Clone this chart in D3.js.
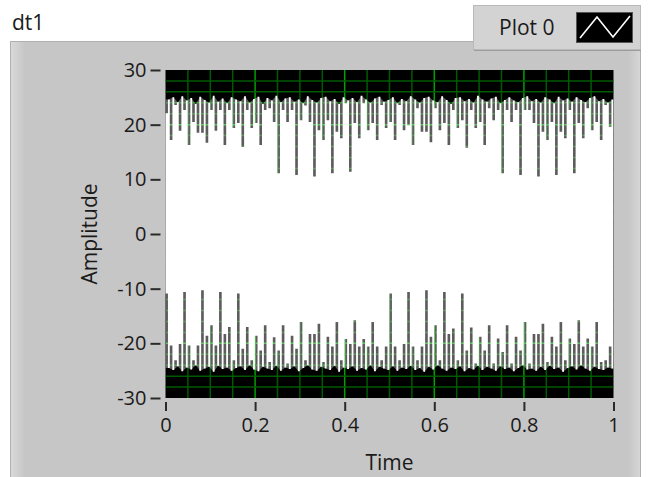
<!DOCTYPE html>
<html><head><meta charset="utf-8">
<script src="https://cdn.jsdelivr.net/npm/d3@7"></script>
<style>
html,body{margin:0;padding:0;background:#fff;}
svg{display:block;}
text{font-family:"Open Sans","Noto Sans",sans-serif;fill:#1a1a1a;}
</style></head><body>
<svg id="c" width="652" height="477"></svg>
<script>
// ---------- data ----------
const graphName = "dt1";
const plotName = "Plot 0";
const xTitle = "Time";
const yTitle = "Amplitude";
const xTicks = [0, 0.2, 0.4, 0.6, 0.8, 1];
const xTickLabels = ["0", "0.2", "0.4", "0.6", "0.8", "1"];
const yTicks = [30, 20, 10, 0, -10, -20, -30];
const yTickLabels = ["30", "20", "10", "0", "-10", "-20", "-30"];
const t0 = 0, dt = 0.01;   // one pair of display columns per dt

// upper end of the "dip" columns (dark spikes hanging from the top band)
const dipTop = [22.1,17.2,23.6,18.9,22.7,16.3,20.5,18.5,18.5,16.7,
  22.7,18.9,22.7,16.3,22.7,19.4,20.3,15.9,22.7,19.4,
  20.3,16.3,22.7,23.0,20.5,11.1,22.7,20.5,22.7,10.8,
  20.8,23.5,20.5,10.5,19.0,17.2,20.8,11.1,18.7,17.5,
  23.9,11.4,20.3,17.5,23.9,19.0,20.3,17.2,23.6,19.4,
  20.5,17.2,23.6,19.0,19.9,16.3,23.0,18.7,18.7,16.8,
  23.0,19.0,20.3,16.3,22.7,19.4,20.8,15.8,22.7,19.4,
  20.5,16.3,23.0,20.8,22.7,11.1,22.7,20.5,22.7,10.8,
  22.7,22.7,20.3,10.5,18.7,17.2,20.5,10.8,18.7,17.5,
  22.7,11.1,20.3,17.5,23.0,19.0,20.5,17.2,23.6,19.6];
// lower end of the "dip" columns (dark spikes rising from the bottom band)
const dipBottom = [-10.9,-20.4,-23.1,-20.1,-10.6,-20.4,-23.1,-20.4,-10.3,-18.6,
  -16.7,-20.4,-10.6,-18.3,-17.0,-23.1,-10.9,-21.0,-17.0,-23.1,
  -18.6,-21.3,-16.7,-23.4,-18.9,-21.3,-16.7,-23.7,-18.6,-21.0,
  -16.1,-23.1,-18.3,-18.3,-16.4,-23.4,-18.8,-20.6,-16.1,-23.1,
  -19.2,-20.1,-15.8,-20.6,-19.2,-20.6,-16.1,-20.6,-23.1,-20.6,
  -10.9,-20.6,-23.1,-20.1,-10.6,-20.6,-23.1,-20.6,-10.3,-18.8,
  -16.7,-23.1,-10.6,-18.3,-17.3,-23.1,-10.9,-21.3,-17.1,-23.7,
  -18.8,-21.3,-16.7,-23.7,-19.1,-21.6,-16.7,-23.7,-18.8,-21.3,
  -16.1,-23.7,-18.3,-18.3,-16.4,-23.4,-18.8,-20.6,-16.1,-23.1,
  -19.1,-20.1,-15.8,-20.6,-19.1,-20.6,-16.1,-23.4,-23.1,-20.6];
// full-swing columns: their maxima and minima
const peakTop = [24.6,25.0,24.1,25.2,24.4,24.9,23.8,25.1,24.5,24.0,
  25.3,24.2,24.8,23.9,25.0,24.6,24.3,25.2,24.0,24.7,
  25.1,23.8,24.9,24.4,25.3,24.1,24.8,25.0,24.2,24.6,
  23.9,25.2,24.5,24.0,24.9,25.1,24.3,24.7,23.8,25.0,
  24.4,24.9,24.1,25.3,24.6,24.0,24.8,25.1,24.2,24.5,
  25.0,23.9,24.7,24.3,25.2,24.6,24.0,24.9,25.1,24.4,
  24.1,25.2,24.5,23.8,24.9,25.0,24.3,24.7,24.0,25.3,
  24.6,24.2,24.8,25.1,23.9,24.5,25.0,24.4,24.1,24.9,
  25.2,24.3,24.7,24.0,25.0,24.6,23.9,25.1,24.4,24.8,
  24.2,25.0,24.5,24.1,24.9,25.2,24.3,24.7,24.0,24.6];
const peakBottom = [-24.5,-24.9,-24.2,-25.1,-24.4,-24.8,-24.0,-25.0,-24.6,-24.3,
  -25.2,-24.1,-24.7,-24.4,-25.0,-24.5,-24.2,-24.9,-24.0,-24.8,
  -25.1,-24.3,-24.6,-24.9,-24.1,-25.0,-24.4,-24.7,-24.2,-25.1,
  -24.5,-24.0,-24.8,-25.0,-24.3,-24.6,-24.9,-24.1,-25.2,-24.4,
  -24.7,-24.2,-25.0,-24.5,-24.8,-24.0,-25.1,-24.3,-24.6,-24.9,
  -24.2,-25.0,-24.4,-24.7,-24.1,-24.9,-24.5,-25.2,-24.3,-24.8,
  -24.0,-24.6,-25.0,-24.4,-24.7,-24.2,-25.1,-24.5,-24.8,-24.1,
  -24.9,-24.3,-24.6,-25.0,-24.2,-24.7,-24.4,-25.1,-24.5,-24.0,
  -24.8,-24.6,-25.0,-24.3,-24.9,-24.1,-24.7,-24.4,-25.2,-24.5,
  -24.2,-24.8,-24.0,-24.6,-25.0,-24.3,-24.7,-24.9,-24.4,-24.6];

// ---------- layout ----------
const svg = d3.select("#c");
const plot = {l: 165.5, r: 613.5, t: 70, b: 398};
const x = d3.scaleLinear().domain([0, 1]).range([plot.l, plot.r]);
const y = d3.scaleLinear().domain([-30, 30]).range([plot.b, plot.t]);
const FONT = '"Open Sans","Noto Sans",sans-serif';

const defs = svg.append("defs");
const gl = defs.append("linearGradient").attr("id","gl").attr("x1","0").attr("x2","1");
gl.append("stop").attr("offset","0").attr("stop-color","#d9d9d9");
gl.append("stop").attr("offset","1").attr("stop-color","#c6c6c6");
const gr = defs.append("linearGradient").attr("id","gr").attr("x1","0").attr("x2","1");
gr.append("stop").attr("offset","0").attr("stop-color","#c6c6c6");
gr.append("stop").attr("offset","1").attr("stop-color","#d6d6d6");
defs.append("clipPath").attr("id","pc").append("rect")
  .attr("x", plot.l).attr("y", plot.t).attr("width", plot.r - plot.l).attr("height", plot.b - plot.t);

// panel
svg.append("rect").attr("x",10.5).attr("y",41.5).attr("width",630).attr("height",440)
  .attr("fill","#c6c6c6").attr("stroke","#b0b0b0");
svg.append("rect").attr("x",11).attr("y",42).attr("width",14).attr("height",440).attr("fill","url(#gl)");
svg.append("rect").attr("x",628).attr("y",42).attr("width",12).attr("height",440).attr("fill","url(#gr)");

// graph label
svg.append("text").attr("x",12).attr("y",30).attr("font-size",21).text(graphName);

// legend
svg.append("rect").attr("x",473.5).attr("y",5.5).attr("width",167).attr("height",44)
  .attr("fill","#d3d3d3").attr("stroke","#b9b9b9");
svg.append("line").attr("x1",474).attr("x2",641).attr("y1",50.5).attr("y2",50.5).attr("stroke","#9c9c9c");
svg.append("text").attr("x",499).attr("y",35).attr("font-size",21).text(plotName);
svg.append("rect").attr("x",576.5).attr("y",12.5).attr("width",56).attr("height",30)
  .attr("fill","#000").attr("stroke","#555");
svg.append("polyline").attr("points","580,38 597,17 613,37 630,16")
  .attr("fill","none").attr("stroke","#fff").attr("stroke-width",1.6);

// plot area
const pg = svg.append("g");
pg.append("rect").attr("x",plot.l).attr("y",plot.t).attr("width",plot.r-plot.l).attr("height",plot.b-plot.t).attr("fill","#000");
const grid = pg.append("g").attr("clip-path","url(#pc)");
const vMinor = d3.range(1, 20).map(i => i * 0.05);
grid.selectAll(".vg").data(vMinor).join("line")
  .attr("x1", d => x(d)).attr("x2", d => x(d)).attr("y1", plot.t).attr("y2", plot.b)
  .attr("stroke", d => (Math.abs(d*5 - Math.round(d*5)) < 1e-6) ? "#00a000" : "#005a00")
  .attr("stroke-width", 1.5);
const hMinor = d3.range(-28, 29, 2);
grid.selectAll(".hg").data(hMinor).join("line")
  .attr("x1", plot.l).attr("x2", plot.r).attr("y1", d => y(d)).attr("y2", d => y(d))
  .attr("stroke", d => d % 10 === 0 ? "#00a000" : "#005a00")
  .attr("stroke-width", 1.5);

// signal columns (min/max per display column)
const cols = [];
dipTop.forEach((v, k) => {
  const t = t0 + k * dt;
  cols.push({kind: "dip", a: t, b: t + dt / 2, hi: v, lo: dipBottom[k]});
  cols.push({kind: "peak", a: t + dt / 2, b: t + dt, hi: peakTop[k], lo: peakBottom[k]});
});
const peaks = cols.filter(c => c.kind === "peak");
const env = [{a: 0, b: 0, hi: peaks[0].hi, lo: peaks[0].lo}].concat(peaks)
  .concat([{a: 1, b: 1, hi: peaks[peaks.length-1].hi, lo: peaks[peaks.length-1].lo}]);
const sig = pg.append("g").attr("clip-path","url(#pc)");
sig.append("path").datum(env)
  .attr("d", d3.area().x(d => x((d.a + d.b) / 2)).y0(d => y(d.lo)).y1(d => y(d.hi)))
  .attr("fill", "#fff").attr("fill-opacity", 0.36);
// all columns merged into one path so that neighbouring columns join without seams
const colPath = d3.path();
cols.forEach(d => {
  const x0 = d.kind === "dip" ? x(d.a) - 0.3 : x(d.a) + 0.2;
  const x1 = d.kind === "dip" ? x(d.b) + 0.3 : x(d.a) + 0.2 + (x(d.b) - x(d.a)) * 0.82;
  colPath.rect(x0, y(d.hi), x1 - x0, y(d.lo) - y(d.hi));
});
sig.append("path").attr("d", colPath.toString()).attr("fill", "#fff").attr("fill-rule", "nonzero");

// axes
const ax = svg.append("g").attr("transform", `translate(0,${plot.b + 4})`)
  .call(d3.axisBottom(x).tickValues(xTicks).tickFormat((d, i) => xTickLabels[i]).tickSize(9).tickPadding(7));
const ay = svg.append("g").attr("transform", `translate(${plot.l - 5},0)`)
  .call(d3.axisLeft(y).tickValues(yTicks).tickFormat((d, i) => yTickLabels[i]).tickSize(10).tickPadding(4));
[ax, ay].forEach(g => {
  g.select(".domain").remove();
  g.selectAll(".tick line").attr("stroke", "#2a2a2a").attr("stroke-width", 2);
  g.selectAll(".tick text").attr("font-size", 20).attr("fill", "#1a1a1a").style("font-family", FONT);
});

svg.append("text").attr("x", (plot.l + plot.r) / 2).attr("y", 470).attr("text-anchor","middle")
  .attr("font-size", 21).text(xTitle);
svg.append("text").attr("transform", `translate(97,${y(0)}) rotate(-90)`).attr("text-anchor","middle")
  .attr("font-size", 21).text(yTitle);
</script></body></html>
